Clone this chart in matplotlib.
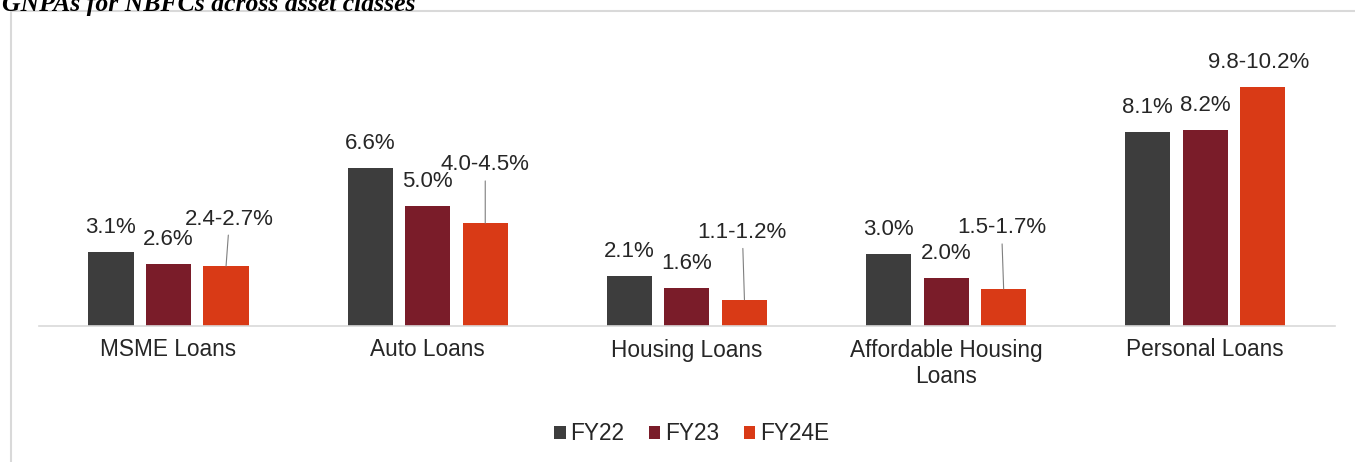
import matplotlib
matplotlib.use('Agg')
import matplotlib.pyplot as plt
import matplotlib.patches as mpatches
import numpy as np

plt.rcParams['font.family'] = ['Liberation Sans', 'DejaVu Sans']

# ── data ──────────────────────────────────────────────────────────────────────
categories = ['MSME Loans', 'Auto Loans', 'Housing Loans',
              'Affordable Housing\nLoans', 'Personal Loans']
series = ['FY22', 'FY23', 'FY24E']
fy22 = [3.1, 6.6, 2.1, 3.0, 8.1]
fy23 = [2.6, 5.0, 1.6, 2.0, 8.2]
fy24e = [2.5, 4.3, 1.1, 1.55, 10.0]           # bar height (mid of range)
fy22_lbl = ['3.1%', '6.6%', '2.1%', '3.0%', '8.1%']
fy23_lbl = ['2.6%', '5.0%', '1.6%', '2.0%', '8.2%']
fy24e_lbl = ['2.4-2.7%', '4.0-4.5%', '1.1-1.2%', '1.5-1.7%', '9.8-10.2%']

# ── style ─────────────────────────────────────────────────────────────────────
C_FY22 = '#3d3d3d'
C_FY23 = '#7a1c29'
C_FY24 = '#d93a16'
TXT = '#262626'
GRID = '#d9d9d9'

# label offsets for FY24E ranges (points: dx, dy from bar top)
fy24_off = [(2.5, 30), (0, 38), (-1.5, 44.5), (-1.5, 40), (-3, 13.7)]

W, H = 1355, 462
fig = plt.figure(figsize=(W / 100, H / 100), dpi=100)
fig.patch.set_facecolor('white')

# outer frame
fig.patches.append(mpatches.Rectangle((10.5 / W, -0.05), 1.1, 1 - 11 / H + 0.05,
                                      transform=fig.transFigure, fill=False,
                                      edgecolor=GRID, lw=1.5))

fig.text(0.0015, 1 - 10.5 / H, 'GNPAs for NBFCs across asset classes',
         family='Liberation Serif', style='italic', fontweight='bold',
         fontsize=18.5, va='baseline', ha='left', color='black')

ax = fig.add_axes([38.9 / W, (H - 326) / H, 1296 / W, 287 / H])
ax.set_xlim(-0.5, 4.5)
ax.set_ylim(0, 12)

x = np.arange(len(categories))
bw, step = 0.174, 0.222
b1 = ax.bar(x - step, fy22, bw, color=C_FY22, label=series[0])
b2 = ax.bar(x, fy23, bw, color=C_FY23, label=series[1])
b3 = ax.bar(x + step, fy24e, bw, color=C_FY24, label=series[2])

for bars, labels in [(b1, fy22_lbl), (b2, fy23_lbl)]:
    for r, t in zip(bars, labels):
        ax.annotate(t, (r.get_x() + r.get_width() / 2, r.get_height()),
                    xytext=(0, 13.7), textcoords='offset points',
                    ha='center', va='baseline', fontsize=16, color=TXT)

for r, t, (dx, dy) in zip(b3, fy24e_lbl, fy24_off):
    arrow = None
    if dy > 20:
        arrow = dict(arrowstyle='-', color='#7f7f7f', lw=0.8,
                     shrinkA=2, shrinkB=0)
    ax.annotate(t, (r.get_x() + r.get_width() / 2, r.get_height()),
                xytext=(dx, dy), textcoords='offset points',
                ha='center', va='baseline', fontsize=16, color=TXT,
                arrowprops=arrow)

for s in ['top', 'right', 'left']:
    ax.spines[s].set_visible(False)
ax.spines['bottom'].set_color(GRID)
ax.spines['bottom'].set_linewidth(1.2)
ax.set_yticks([])
ax.set_xticks(x)
ax.set_xticklabels(categories, fontsize=16.3, color=TXT, linespacing=1.2)
ax.tick_params(axis='x', length=0, pad=9)

handles = [mpatches.Patch(facecolor=c, label=s)
           for c, s in zip([C_FY22, C_FY23, C_FY24], series)]
leg = fig.legend(handles=handles, loc='center', ncol=3,
                 bbox_to_anchor=(691.5 / W, 1 - 434 / H), frameon=False,
                 fontsize=16.3, handlelength=0.5, handleheight=0.5,
                 handletextpad=0.2, columnspacing=1.1)
for t in leg.get_texts():
    t.set_color(TXT)

fig.savefig('out.png', dpi=100, facecolor='white')
